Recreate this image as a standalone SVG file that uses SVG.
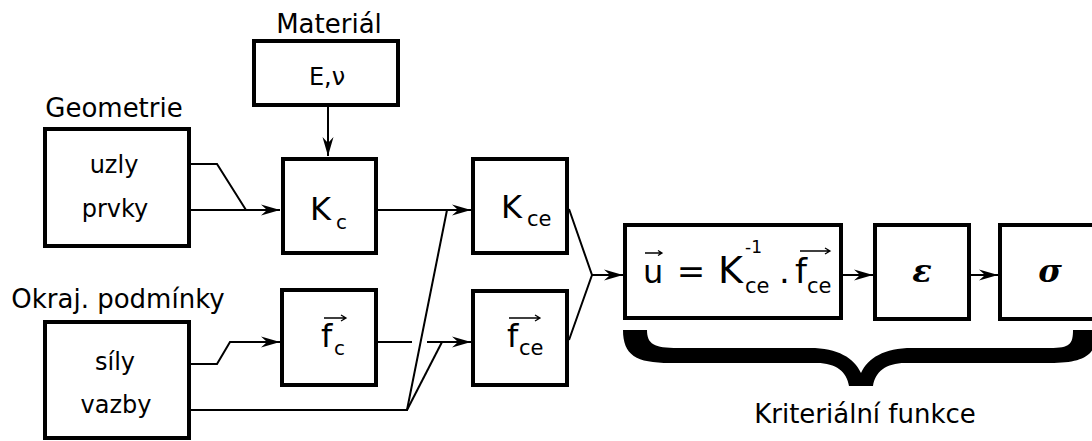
<svg xmlns="http://www.w3.org/2000/svg" width="1092" height="441" viewBox="0 0 1092 441">
<style>
.box{fill:#fff;stroke:#000;stroke-width:4}
.lbl{font-family:"DejaVu Sans",sans-serif;font-size:26px;fill:#000;text-anchor:middle}
.in{font-family:"DejaVu Sans",sans-serif;font-size:24px;fill:#000;text-anchor:middle}
.m{font-family:"DejaVu Sans",sans-serif;fill:#000}
.g{font-family:"DejaVu Serif",serif;font-style:italic;font-weight:bold;font-size:32px;fill:#000;text-anchor:middle}
.c{fill:none;stroke:#000;stroke-width:2}
.v{fill:none;stroke:#000;stroke-width:1.3}
</style>
<defs>
<marker id="ah" viewBox="-20 -6 21 12" refX="0" refY="0" markerWidth="21" markerHeight="12" orient="auto" markerUnits="userSpaceOnUse">
<path d="M0,0 L-19,-5.5 L-13,0 L-19,5.5 Z" fill="#000"/>
</marker>
</defs>

<g id="connectors">
<path class="c" d="M328,107 L328,156" marker-end="url(#ah)"/>
<path class="c" d="M191,164 L217,164 L246,210"/>
<path class="c" d="M191,210 L280,210" marker-end="url(#ah)"/>
<path class="c" d="M378,210 L471,210" marker-end="url(#ah)"/>
<path class="c" d="M191,364 L217,364 L230,342 L280,342" marker-end="url(#ah)"/>
<path class="c" d="M378,342 L412,342"/>
<path class="c" d="M427,342 L471,342" marker-end="url(#ah)"/>
<path class="c" d="M191,410 L407,410 L447,210"/>
<path class="c" d="M407,410 L442,342"/>
<path class="c" d="M569,209 L592,275 L569,340"/>
<path class="c" d="M592,275 L623,275" marker-end="url(#ah)"/>
<path class="c" d="M843,275 L873,275" marker-end="url(#ah)"/>
<path class="c" d="M971,275 L998,275" marker-end="url(#ah)"/>
</g>

<g id="material">
<text class="lbl" x="329" y="33">Materiál</text>
<rect class="box" x="254" y="41" width="144" height="64"/>
<text class="in" x="327" y="85">E,ν</text>
</g>

<g id="geometrie">
<text class="lbl" x="114" y="117">Geometrie</text>
<rect class="box" x="45" y="129" width="144" height="117"/>
<text class="in" x="114" y="173">uzly</text>
<text class="in" x="115" y="217">prvky</text>
</g>

<g id="okraj">
<text class="lbl" x="118" y="308">Okraj. podmínky</text>
<rect class="box" x="45" y="322" width="144" height="116"/>
<text class="in" x="115" y="370">síly</text>
<text class="in" x="116" y="413">vazby</text>
</g>

<g id="Kc">
<rect class="box" x="283" y="159" width="93" height="94"/>
<text class="m" x="310" y="220" font-size="32">K</text>
<text class="m" x="336" y="229" font-size="20">c</text>
</g>

<g id="fc">
<rect class="box" x="282" y="290" width="94" height="95"/>
<text class="m" x="321" y="347" font-size="32">f</text>
<text class="m" x="334" y="355" font-size="20">c</text>
<path class="v" d="M324,318 L346,318 M341,315 L346,318 L341,321"/>
</g>

<g id="Kce">
<rect class="box" x="473" y="159" width="94" height="94"/>
<text class="m" x="501" y="218" font-size="32">K</text>
<text class="m" x="527" y="226" font-size="21">ce</text>
</g>

<g id="fce">
<rect class="box" x="473" y="291" width="94" height="94"/>
<text class="m" x="507" y="347" font-size="32">f</text>
<text class="m" x="519" y="355" font-size="21">ce</text>
<path class="v" d="M509,318 L540,318 M535,315 L540,318 L535,321"/>
</g>

<g id="u">
<rect class="box" x="625" y="225" width="216" height="93"/>
<text class="m" x="643" y="283" font-size="32">u</text>
<path class="v" d="M645,253 L662,253 M658,250.5 L662,253 L658,255.5"/>
<text class="m" x="691" y="283" font-size="34" text-anchor="middle">=</text>
<text class="m" x="718" y="283" font-size="38">K</text>
<text class="m" x="745" y="253" font-size="17">-1</text>
<text class="m" x="745" y="293" font-size="21">ce</text>
<text class="m" x="779" y="283" font-size="34">.</text>
<text class="m" x="795" y="283" font-size="34">f</text>
<text class="m" x="807" y="293" font-size="21">ce</text>
<path class="v" d="M800,251 L830,251 M825,248 L830,251 L825,254"/>
</g>

<g id="epsilon">
<rect class="box" x="875" y="225" width="94" height="94"/>
<text class="g" x="922" y="282">ε</text>
</g>

<g id="sigma">
<rect class="box" x="1000" y="225" width="94" height="94"/>
<text class="g" x="1050" y="282">σ</text>
</g>

<g id="brace">
<path fill="#000" d="M623,330 L647,330 C647,344 654,348 678,348 L810,348 C838,348 854,358 861,373 C868,358 884,348 912,348 L1050,348 C1070,348 1073,344 1073,330 L1097,330 C1097,355 1085,363 1050,363 L905,363 C886,363 875,372 873,386 L849,386 C847,372 836,363 817,363 L670,363 C636,363 623,355 623,330 Z"/>
<text class="lbl" x="865" y="423">Kriteriální funkce</text>
</g>
</svg>
